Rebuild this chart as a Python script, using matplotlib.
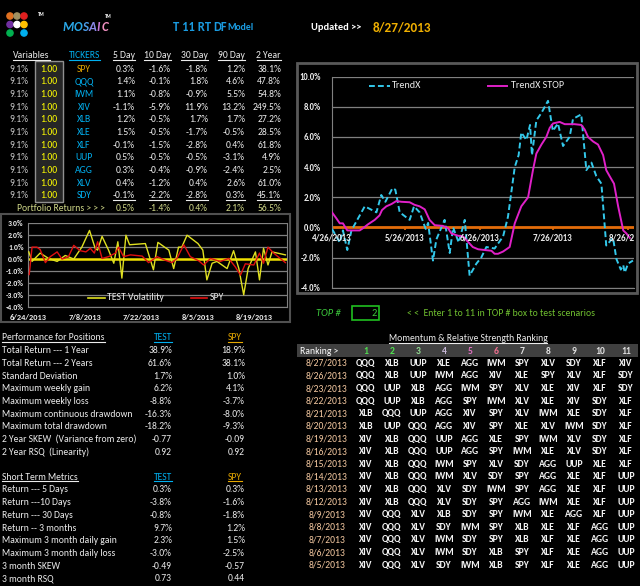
import numpy as np
import matplotlib.pyplot as plt
import pandas as pd
from matplotlib import font_manager
from matplotlib.patches import Rectangle, Circle

# Calibri look-alike if one is around
avail = {f.name for f in font_manager.fontManager.ttflist}
FONT = 'Liberation Sans'
for fam in ['Carlito', 'Liberation Sans Narrow', 'Roboto Condensed', 'Open Sans Condensed']:
    if fam in avail:
        FONT = fam
        break
plt.rcParams['font.family'] = [FONT, 'DejaVu Sans']

# ---------------- data ----------------
tickers = ['SPY', 'QQQ', 'IWM', 'XIV', 'XLB', 'XLE', 'XLF', 'UUP', 'AGG', 'XLV', 'SDY']
alloc = [9.1] * 11
weights = [1.00] * 11
ret_5d = [0.3, 1.4, 1.1, -1.1, 1.2, 1.5, -0.1, 0.5, 0.3, 0.4, -0.1]
ret_10d = [-1.6, -0.1, -0.8, -5.9, -0.5, -0.5, -1.5, -0.5, -0.4, -1.2, -2.2]
ret_30d = [-1.8, 1.8, -0.9, 11.9, 1.7, -1.7, -2.8, -0.5, -0.9, 0.4, -2.8]
ret_90d = [1.2, 4.6, 5.5, 13.2, 1.7, -0.5, 0.4, -3.1, -2.4, 2.6, 0.3]
ret_2y = [38.1, 47.8, 54.8, 249.5, 27.2, 28.5, 61.8, 4.9, 2.5, 61.0, 45.1]
portfolio = [0.5, -1.4, 0.4, 2.1, 56.5]
period_names = ['5 Day', '10 Day', '30 Day', '90 Day', '2 Year']

# TrendX chart (days after 4/26/2013, percent)
trend_days = [0, 3.2, 4.5, 6.3, 8, 13.5, 18.3, 20.3, 22, 24.9, 26.1, 27.9, 32, 33.8, 36.1,
              38.6, 39.6, 41.6, 43, 46.4, 48.5, 49.9, 52.2, 54.7, 56.7, 59.5, 61.5, 63.6,
              67, 70.5, 72.5, 75.3, 76.9, 78, 80.1, 81.6, 82.4, 84.2, 86.3, 89, 91, 93.1,
              95.2, 97.9, 99.3, 102.7, 104.8, 106.9, 108.9, 111, 113, 115.8, 117.2, 119,
              120, 120.6, 122, 124]
trend_vals = [-0.1, -1.0, -0.2, -1.5, -0.2, 1.4, 1.0, 2.15, 1.7, 2.6, 2.5, 1.0, 0.5, 1.4, 1.0,
              -0.1, 0.3, -2.2, -0.8, 0.5, -1.7, 0.0, -1.0, 0.5, -3.2, -2.4, -2.0, -1.3,
              -1.4, -0.6, 0.7, 4.0, 4.8, 6.3, 5.8, 6.8, 4.8, 7.1, 7.6, 8.4, 6.4, 6.9,
              5.4, 6.0, 7.2, 7.5, 3.8, 4.3, 3.4, 2.9, -1.2, -0.7, -2.1, -2.8,
              -2.5, -3.0, -2.4, -2.2]
stop_days = [0, 1.8, 3.2, 4.5, 6.3, 8, 11.4, 12.8, 14.8, 17.6, 19.6, 20.6, 22.4, 24.5, 26.5,
             28.6, 32, 34, 36.1, 38.2, 40.2, 42.3, 45.7, 47.8, 49.2, 51.9, 54, 56, 58, 60.2,
             62.9, 65.7, 67, 68.4, 70.5, 73.2, 75.3, 78, 80.8, 82.8, 84.2, 86.3, 88.3, 89.7,
             91.1, 93.8, 95.9, 100, 102.7, 104.1, 105.5, 107.6, 109.6, 111.7, 113, 114.4,
             116.2, 117.9, 120, 121.3, 122.7]
stop_vals = [1.0, 0.6, 0.27, 0.27, -0.2, -0.2, -0.2, -0.05, 0.2, 0.5, 0.8, 1.15, 1.4, 1.55, 1.75,
             1.7, 1.67, 1.5, 1.4, 1.2, 0.5, 0.15, 0.1, -0.05, -0.4, -0.55, -0.6, -0.95, -1.3, -1.45,
             -1.5, -1.55, -1.75, -1.75, -1.6, -1.3, 0.27, 1.4, 2.0, 3.8, 4.9, 5.5, 6.0, 6.6,
             6.9, 7.0, 6.85, 6.85, 6.8, 6.5, 6.0, 5.7, 5.5, 4.8, 3.8, 3.4,
             2.9, 1.4, -0.2, -0.4, -0.7]
trend_ticks = ['2013-04-26', '2013-05-26', '2013-06-26', '2013-07-26', '2013-08-26']

# volatility chart (days after 6/24/2013, percent)
vol_days = [0.2, 1, 3, 5.1, 7.2, 9.2, 11.3, 13.3, 15.2, 16.6, 17.2, 18.3, 19.9, 21.2, 22.2,
            23.2, 24.2, 25.1, 29, 31, 32.1, 34.8, 36, 37.2, 38, 39.3, 42, 43.2, 44.2, 45.5,
            46.7, 49.2, 50.8, 52.1, 53.3, 54.4, 56.2, 57.2, 58.2, 59.3, 60.3, 63.6]
vol_vals = [0.6, -0.2, 0.5, 0.05, -0.2, 0.3, 0.0, 1.0, 2.4, 0.9, 0.75, 1.9, 0.75, -0.35, 1.45,
            -1.6, 2.0, 1.2, 1.3, -0.9, 1.4, 0.75, -0.8, 1.0, 1.0, 2.0, 1.3, 0.75, -1.75, -0.35,
            -0.2, -0.8, 0.7, -0.8, -3.0, -0.8, 0.6, -1.75, 0.9, -0.5, 0.6, 0.35]
spy_days = [0.3, 1, 2.2, 3, 4.3, 5.5, 7.2, 8.4, 10, 11.3, 12.9, 14.3, 15.4, 16.4, 17.2, 18.3,
            19.9, 21.6, 22.4, 23.6, 25.3, 28.2, 29.8, 31.9, 33.9, 35.6, 36.8, 38.5, 40.1, 42.2,
            43.4, 45.1, 47.5, 49.6, 51.2, 52.5, 53.7, 55.8, 57.2, 58.2, 59.3, 60.7, 63.6]
spy_vals = [-1.3, 1.0, 1.0, 0.8, -0.3, 0.2, 0.6, 0.0, 0.2, 1.15, 0.7, 0.6, 0.9, 0.5, 1.45, 0.05,
            0.2, 0.5, 1.0, 0.2, 0.35, 0.25, -0.3, 0.2, -0.1, -0.3, 0.05, 1.2, 0.2, -0.15,
            -0.5, 0.05, -0.2, 0.05, -0.65, -1.35, -0.4, -0.5, 0.5, -0.35, 1.0, 0.5, -0.3]
vol_ticks = ['2013-06-24', '2013-07-08', '2013-07-22', '2013-08-05', '2013-08-19']

perf_labels = ['Total Return --- 1 Year', 'Total Return --- 2 Years', 'Standard Deviation',
               'Maximum weekly gain', 'Maximum weekly loss', 'Maximum continuous drawdown',
               'Maximum total drawdown', '2 Year SKEW  (Variance from zero)', '2 Year RSQ  (Linearity)']
perf_test = ['38.9%', '61.6%', '1.7%', '6.2%', '-8.8%', '-16.3%', '-18.2%', '-0.77', '0.92']
perf_spy = ['18.9%', '38.1%', '1.0%', '4.1%', '-3.7%', '-8.0%', '-9.3%', '-0.09', '0.92']

short_labels = ['Return --- 5 Days', 'Return ---10 Days', 'Return --- 30 Days', 'Return -- 3 months',
                'Maximum 3 month daily gain', 'Maximum 3 month daily loss', '3 month SKEW', '3 month RSQ']
short_test = ['0.3%', '-3.8%', '-0.8%', '9.7%', '2.3%', '-3.0%', '-0.49', '0.73']
short_spy = ['0.3%', '-1.6%', '-1.8%', '1.2%', '1.5%', '-2.5%', '-0.57', '0.44']

rank_dates = ['8/27/2013', '8/26/2013', '8/23/2013', '8/22/2013', '8/21/2013', '8/20/2013',
              '8/19/2013', '8/16/2013', '8/15/2013', '8/14/2013', '8/13/2013', '8/12/2013',
              '8/9/2013', '8/8/2013', '8/7/2013', '8/6/2013', '8/5/2013']
rank_rows = [
    'QQQ XLB UUP XLE AGG IWM SPY XLV SDY XLF XIV'.split(),
    'QQQ XLB UUP IWM AGG XIV XLE SPY XLV XLF SDY'.split(),
    'QQQ UUP XLB AGG IWM SPY XLV XLE XIV XLF SDY'.split(),
    'QQQ UUP XLB AGG SPY IWM XLV XLE XIV SDY XLF'.split(),
    'XLB QQQ UUP AGG XIV SPY XLV IWM XLE SDY XLF'.split(),
    'XLB UUP QQQ AGG XIV SPY XLE XLV IWM SDY XLF'.split(),
    'XIV XLB QQQ UUP AGG XLE SPY IWM XLV SDY XLF'.split(),
    'XIV XLB QQQ UUP AGG SPY IWM XLE XLV SDY XLF'.split(),
    'XIV XLB QQQ IWM SPY XLV SDY AGG UUP XLE XLF'.split(),
    'XIV XLB QQQ IWM XLV SDY SPY AGG XLE XLF UUP'.split(),
    'XIV XLB QQQ XLV SDY IWM SPY AGG XLE XLF UUP'.split(),
    'XIV XLB QQQ XLV SDY SPY AGG IWM XLE XLF UUP'.split(),
    'XIV QQQ XLV XLB SDY SPY IWM XLE AGG XLF UUP'.split(),
    'XIV QQQ XLV SDY IWM SPY XLB XLE XLF AGG UUP'.split(),
    'XIV QQQ XLV IWM SDY SPY XLB XLF XLE AGG UUP'.split(),
    'XIV QQQ XLV IWM SDY XLB SPY XLF XLE AGG UUP'.split(),
    'XIV QQQ XLV SDY IWM XLB SPY XLF XLE AGG UUP'.split(),
]
top_n = 2

# ---------------- colours ----------------
LIGHT = '#ececec'
CYAN = '#00b0f0'
GOLD = '#e6a800'
GREEN = '#3cc83c'
PALE = '#d0d888'
FS = 6.9  # table text size

W, H = 640, 586
fig = plt.figure(figsize=(W / 100, H / 100), dpi=100, facecolor='black')
ax0 = fig.add_axes([0, 0, 1, 1])
ax0.set_xlim(0, W)
ax0.set_ylim(H, 0)
ax0.axis('off')
underlined = []


def txt(x, y, s, color=LIGHT, size=FS, ha='left', ul=False, **kw):
    t = ax0.text(x, y, s, color=color, fontsize=size, ha=ha, va='center', **kw)
    if ul:
        underlined.append(t)
    return t


def fmt(v):
    return f'{v:.1f}%'


# header / logo
dot_cols = [['#e07020', '#a09060', '#e02020'],
            ['#7030a0', '#ffffff', '#ffc000'],
            ['#00b050', None, '#00b0f0']]
for r, row in enumerate(dot_cols):
    for c, col in enumerate(row):
        if col:
            ax0.add_patch(Circle((10 + 7 * c, 16 + 8.5 * r), 3.1, color=col))
txt(38, 15, 'TM', color='white', size=3.5, weight='bold')
for ch, x, col in zip('MOSAIC', [62.5, 73.2, 81.8, 88.5, 96.8, 101.8],
                      ['#2aa8e8', '#2aa8e8', '#4c9ce8', '#8a88e8', '#c878d8', '#f090c0']):
    txt(x, 27, ch, color=col, size=9.3, weight='bold', style='italic')
txt(105, 16, 'TM', color='white', size=3.5, weight='bold')
txt(173, 27, 'T 11 RT', color='#1a9be0', size=9, weight='bold')
txt(213, 27, 'DF', color='#1a9be0', size=9, weight='bold')
txt(227, 28, 'Model', color='#1a9be0', size=7, weight='bold')
txt(311, 28, 'Updated >>', color='white', size=7.5, weight='bold')
txt(373, 27, '8/27/2013', color='#f0b000', size=9.5, weight='bold')

# ticker table
col_right = [135, 171, 208, 245, 281]
txt(13, 56, 'Variables', ul=True)
txt(69, 56, 'TICKERS', color=CYAN, ul=True)
for x, name in zip(col_right, period_names):
    txt(x, 56, name, ha='right', ul=True)
ax0.add_patch(Rectangle((35, 61), 28, 141, facecolor='#262626', edgecolor='#909090', lw=1))
cols = [ret_5d, ret_10d, ret_30d, ret_90d, ret_2y]
for i, tk in enumerate(tickers):
    y = 69 + 12.67 * i
    txt(9, y, f'{alloc[i]:.1f}%', color='#c8c8c8')
    txt(49, y, f'{weights[i]:.2f}', color='#ffff00', ha='center')
    txt(84, y, tk, color=GOLD if tk == 'SPY' else CYAN, ha='center')
    for x, vals in zip(col_right, cols):
        txt(x, y, fmt(vals[i]), ha='right', ul=(i == len(tickers) - 1))
txt(17, 208.5, 'Portfolio Returns > > >', color=PALE)
for x, v in zip(col_right, portfolio):
    txt(x, 208.5, fmt(v), color=PALE, ha='right')

# performance table
txt(2, 338, 'Performance for Positions', ul=True)
txt(163, 338, 'TEST', color=CYAN, ha='center', ul=True)
txt(235, 338, 'SPY', color=GOLD, ha='center', ul=True)
for i, lab in enumerate(perf_labels):
    y = 350.7 + 12.67 * i
    txt(2, y, lab)
    txt(172, y, perf_test[i], ha='right')
    txt(245, y, perf_spy[i], ha='right')

txt(2, 477, 'Short Term Metrics', ul=True)
txt(163, 477, 'TEST', color=CYAN, ha='center', ul=True)
txt(235, 477, 'SPY', color=GOLD, ha='center', ul=True)
for i, lab in enumerate(short_labels):
    y = 490 + 12.67 * i
    txt(2, y, lab)
    txt(172, y, short_test[i], ha='right')
    txt(245, y, short_spy[i], ha='right')

# TOP # box and ranking table
txt(316, 313, 'TOP #', color=GREEN, style='italic', size=7.5)
ax0.add_patch(Rectangle((352, 306), 27, 13.5, facecolor='black', edgecolor='#20c020', lw=1.2))
txt(377, 313, str(top_n), color=GREEN, ha='right', size=7.5)
txt(407, 313, '< <  Enter 1 to 11 in TOP # box to test scenarios', color='#70c030', size=7)
txt(468, 338.5, 'Momentum & Relative Strength Ranking', ha='center', ul=True)
ax0.add_patch(Rectangle((297, 344), 341, 13, facecolor='#404040', edgecolor='none'))
txt(300, 351, 'Ranking >', color='white')
rank_x = [366 + 26.0 * k for k in range(11)]
num_cols = ['#50e050', '#50e050', '#90d890', '#c8b8d8', '#e070c0', '#f07090'] + ['#e0e0e0'] * 5
for k, x in enumerate(rank_x):
    txt(x, 351, str(k + 1), color=num_cols[k], ha='center', weight='bold')
for j, (d, row) in enumerate(zip(rank_dates, rank_rows)):
    y = 363.3 + 12.62 * j
    txt(327, y, d, color='#f4c8a0', ha='center')
    for x, tk in zip(rank_x, row):
        txt(x, y, tk, color='#f4f4f4', ha='center', weight='bold')

# ---------------- TrendX chart ----------------
ax0.add_patch(Rectangle((297, 62.5), 340, 230.5, facecolor='black', edgecolor='#595959', lw=2))
t0 = pd.Timestamp('2013-04-26')
ax1 = fig.add_axes([332 / W, 1 - 287.7 / H, (634 - 332) / W, (287.7 - 76.7) / H])
ax1.set_facecolor('black')
ax1.set_xlim(0, (634 - 332) / 2.427)
ax1.set_ylim(-4, 10)
for v in range(-4, 11, 2):
    if v != 0:
        ax1.axhline(v, color='#808080', lw=0.9, zorder=1)
ax1.axhline(0, color='#e36c0a', lw=2, zorder=2)
tick_pos = [(pd.Timestamp(s) - t0).days for s in trend_ticks]
ax1.vlines(tick_pos, -0.18, 0, color='#e36c0a', lw=1.2, zorder=2)
for n, (p, s) in enumerate(zip(tick_pos, trend_ticks)):
    d = pd.Timestamp(s)
    ax1.text(p, -0.42, f'{d.month}/{d.day}/{d.year}', color=LIGHT, fontsize=6.5, ha='center',
             va='top', clip_on=(n == len(tick_pos) - 1), zorder=5, weight='bold')
ax1.plot(trend_days, trend_vals, color='#33c8ea', lw=1.4, ls=(0, (3, 1.6)), zorder=3)
ax1.plot(stop_days, stop_vals, color='#e020c8', lw=1.4, zorder=4)
ax1.set_xticks([])
ax1.set_yticks(range(-4, 11, 2))
ax1.set_yticklabels([f'{v:.1f}%' for v in range(-4, 11, 2)], color=LIGHT, fontsize=6.2,
                    weight='bold')
ax1.tick_params(axis='y', length=0, pad=8)
for side in ['top', 'right']:
    ax1.spines[side].set_visible(False)
for side in ['left', 'bottom']:
    ax1.spines[side].set_color('#808080')
ax1.plot([0.122, 0.191], [0.957, 0.957], transform=ax1.transAxes, color='#33c8ea', lw=1.4,
         ls=(0, (3, 1.6)), clip_on=False)
ax1.text(0.198, 0.957, 'TrendX', transform=ax1.transAxes, color=LIGHT, fontsize=7.3, va='center')
ax1.plot([0.515, 0.581], [0.957, 0.957], transform=ax1.transAxes, color='#e020c8', lw=1.4,
         clip_on=False)
ax1.text(0.594, 0.957, 'TrendX STOP', transform=ax1.transAxes, color=LIGHT, fontsize=7.3,
         va='center')

# ---------------- volatility chart ----------------
ax0.add_patch(Rectangle((0.5, 214), 289, 108, facecolor='black', edgecolor='#505050', lw=1.5))
v0 = pd.Timestamp('2013-06-24')
ax2 = fig.add_axes([28 / W, 1 - 306.7 / H, (287 - 28) / W, (306.7 - 223.3) / H])
ax2.set_facecolor('black')
ax2.set_xlim(0, 64)
ax2.set_ylim(-4, 3)
for v in range(-4, 4):
    if v != 0:
        ax2.axhline(v, color='#808080', lw=0.9, zorder=1)
ax2.axhline(0, color='#f0e000', lw=1.8, zorder=2)
ax2.plot(vol_days, vol_vals, color='#e0e020', lw=1.0, zorder=3)
ax2.plot(spy_days, spy_vals, color='#e01010', lw=1.0, zorder=4)
vt = [(pd.Timestamp(s) - v0).days for s in vol_ticks]
ax2.set_xticks(vt)
ax2.set_xticklabels([f'{pd.Timestamp(s).month}/{pd.Timestamp(s).day}/{pd.Timestamp(s).year}'
                     for s in vol_ticks], color=LIGHT, fontsize=6, weight='bold')
ax2.set_yticks(range(-4, 4))
ax2.set_yticklabels([f'{v:.1f}%' for v in range(-4, 4)], color=LIGHT, fontsize=5.6,
                    weight='bold')
ax2.tick_params(axis='y', length=0, pad=3)
ax2.tick_params(axis='x', length=0, pad=5)
ax2.spines['top'].set_visible(False)
for side in ['left', 'right', 'bottom']:
    ax2.spines[side].set_color('#808080')
ax2.plot([0.232, 0.297], [0.108, 0.108], transform=ax2.transAxes, color='#e0e020', lw=1.2)
ax2.text(0.305, 0.108, 'TEST Volatility', transform=ax2.transAxes, color=LIGHT, fontsize=7,
         va='center')
ax2.plot([0.629, 0.691], [0.108, 0.108], transform=ax2.transAxes, color='#e01010', lw=1.2)
ax2.text(0.703, 0.108, 'SPY', transform=ax2.transAxes, color=LIGHT, fontsize=7, va='center')

# underlines
fig.canvas.draw()
rend = fig.canvas.get_renderer()
inv = ax0.transData.inverted()
for t in underlined:
    bb = t.get_window_extent(rend)
    (x0, y0), (x1, _) = inv.transform([(bb.x0, bb.y0), (bb.x1, bb.y1)])
    ax0.plot([x0, x1], [y0 - 0.3, y0 - 0.3], color=t.get_color(), lw=0.8)

fig.savefig('out.png', dpi=100, facecolor='black')
